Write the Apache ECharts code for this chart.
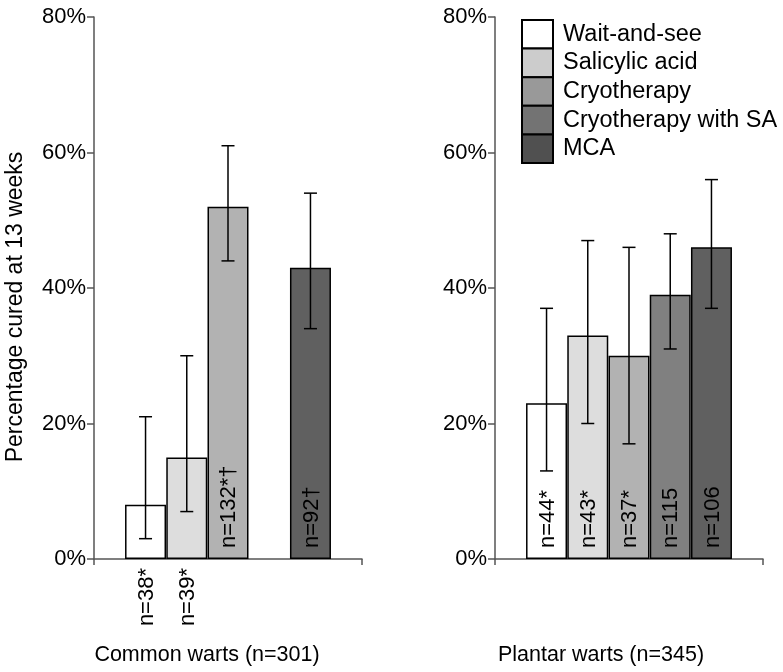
<!DOCTYPE html>
<html>
<head>
<meta charset="utf-8">
<script src="https://cdn.jsdelivr.net/npm/echarts@6/dist/echarts.min.js"></script>
<style>
  html, body { margin: 0; padding: 0; background: #fff; }
  #main { width: 783px; height: 672px; }
</style>
</head>
<body>
<div id="main"></div>
<script>
const myChart = echarts.init(document.getElementById('main'));

// treatments (legend order)
const treatments = ['Wait-and-see', 'Salicylic acid', 'Cryotherapy', 'Cryotherapy with SA', 'MCA'];
const barColors = ['#ffffff', '#dddddd', '#b2b2b2', '#808080', '#606060'];
const legendColors = ['#ffffff', '#cccccc', '#999999', '#737373', '#505050'];

// common warts (no Cryotherapy with SA group)
const commonValues = [8, 15, 52, null, 43];
const commonLow = [3, 7, 44, null, 34];
const commonHigh = [21, 30, 61, null, 54];
const commonN = ['n=38*', 'n=39*', 'n=132*\u2020', '', 'n=92\u2020'];

// plantar warts
const plantarValues = [23, 33, 30, 39, 46];
const plantarLow = [13, 20, 17, 31, 37];
const plantarHigh = [37, 47, 46, 48, 56];
const plantarN = ['n=44*', 'n=43*', 'n=37*', 'n=115', 'n=106'];

const yTicks = [0, 20, 40, 60, 80];
const panelTitles = ['Common warts (n=301)', 'Plantar warts (n=345)'];
const yTitle = 'Percentage cured at 13 weeks';

const FONT = 'Liberation Sans, Arial, Helvetica, sans-serif';
const axisColor = '#555';
const slot = i => 1.25 + i; // bar position on the x scale

function makeAxisX(gridIndex) {
  return {
    type: 'value', gridIndex, min: 0, max: 6.5, interval: 6.5,
    axisLine: { show: true, lineStyle: { color: axisColor, width: 1.5 } },
    axisTick: { show: true, length: 6, lineStyle: { color: axisColor, width: 1.5 } },
    axisLabel: { show: false },
    splitLine: { show: false }
  };
}

function makeAxisY(gridIndex) {
  return {
    type: 'value', gridIndex, min: yTicks[0], max: yTicks[yTicks.length - 1], interval: 20,
    axisLine: { show: true, lineStyle: { color: axisColor, width: 1.5 } },
    axisTick: { show: true, length: 7, lineStyle: { color: axisColor, width: 1.5 } },
    axisLabel: { formatter: '{value}%', color: '#000', fontSize: 22, fontFamily: FONT, margin: 8 },
    splitLine: { show: false }
  };
}

// bars + error bars + n labels for one panel
function makePanel(gridIndex, values, low, high, nLabels) {
  const list = [];
  treatments.forEach((name, i) => {
    list.push({
      name: name,
      type: 'bar',
      xAxisIndex: gridIndex,
      yAxisIndex: gridIndex,
      barWidth: 41,
      barGap: '-100%',
      data: values[i] == null ? [] : [[slot(i), values[i]]],
      itemStyle: { color: barColors[i], borderColor: '#000', borderWidth: 1.5 },
      z: 2
    });
  });
  const errData = [];
  const labData = [];
  values.forEach((v, i) => {
    if (v == null) return;
    errData.push([slot(i), low[i], high[i]]);
    labData.push([slot(i), v, i]);
  });
  list.push({
    type: 'custom',
    xAxisIndex: gridIndex,
    yAxisIndex: gridIndex,
    data: errData,
    z: 5,
    renderItem: function (params, api) {
      const top = api.coord([api.value(0), api.value(2)]);
      const bot = api.coord([api.value(0), api.value(1)]);
      const cap = 6.5;
      const style = { stroke: '#000', lineWidth: 1.5 };
      return {
        type: 'group',
        children: [
          { type: 'line', shape: { x1: top[0], y1: top[1], x2: bot[0], y2: bot[1] }, style },
          { type: 'line', shape: { x1: top[0] - cap, y1: top[1], x2: top[0] + cap, y2: top[1] }, style },
          { type: 'line', shape: { x1: bot[0] - cap, y1: bot[1], x2: bot[0] + cap, y2: bot[1] }, style }
        ]
      };
    }
  });
  list.push({
    type: 'custom',
    xAxisIndex: gridIndex,
    yAxisIndex: gridIndex,
    data: labData,
    z: 6,
    renderItem: function (params, api) {
      const base = api.coord([api.value(0), 0]);
      const short = api.value(1) < 20; // bar too short -> label under the axis
      return {
        type: 'text',
        x: base[0] + 1,
        y: short ? base[1] + 9 : base[1] - 11,
        rotation: Math.PI / 2,
        style: {
          text: nLabels[api.value(2)],
          align: short ? 'right' : 'left',
          verticalAlign: 'middle',
          fill: '#000',
          font: '22px ' + FONT
        }
      };
    }
  });
  return list;
}

var option = {
  backgroundColor: '#fff',
  animation: false,
  grid: [
    { left: 94, top: 17, width: 268, height: 542 },
    { left: 495, top: 17, width: 268, height: 542 }
  ],
  xAxis: [makeAxisX(0), makeAxisX(1)],
  yAxis: [makeAxisY(0), makeAxisY(1)],
  legend: {
    orient: 'vertical',
    left: 521,
    top: 19,
    padding: 0,
    itemWidth: 31,
    itemHeight: 28.6,
    itemGap: -2,
    icon: 'rect',
    selectedMode: false,
    textStyle: { color: '#000', fontSize: 23.5, lineHeight: 24, fontFamily: FONT, padding: [0, 0, 0, 5] },
    data: treatments.map((name, i) => ({
      name: name,
      itemStyle: { color: legendColors[i], borderColor: '#000', borderWidth: 2 }
    }))
  },
  graphic: [
    {
      type: 'text', x: 16, y: 307, rotation: Math.PI / 2,
      style: { text: yTitle, align: 'center', verticalAlign: 'middle', fill: '#000', font: '23px ' + FONT }
    },
    {
      type: 'text', x: 207, y: 655,
      style: { text: panelTitles[0], align: 'center', verticalAlign: 'middle', fill: '#000', font: '21.5px ' + FONT }
    },
    {
      type: 'text', x: 601, y: 655,
      style: { text: panelTitles[1], align: 'center', verticalAlign: 'middle', fill: '#000', font: '21.5px ' + FONT }
    }
  ],
  series: makePanel(0, commonValues, commonLow, commonHigh, commonN)
    .concat(makePanel(1, plantarValues, plantarLow, plantarHigh, plantarN))
};

myChart.setOption(option);
</script>
</body>
</html>
